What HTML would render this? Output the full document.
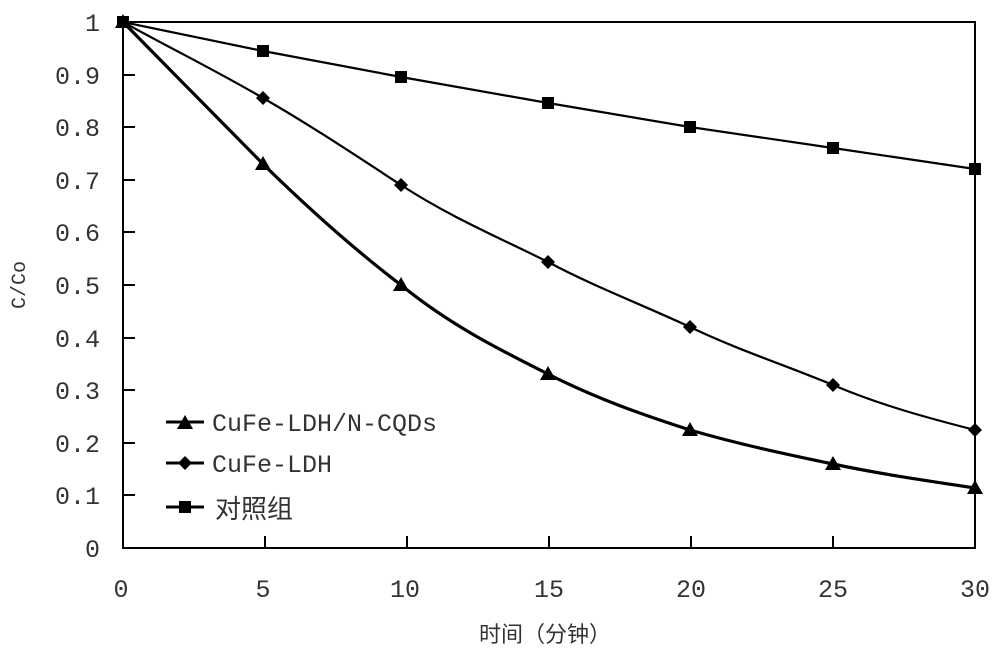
<!DOCTYPE html>
<html><head><meta charset="utf-8"><style>
html,body{margin:0;padding:0;background:#fff;}
text{font-family:"Liberation Mono","WenQuanYi Zen Hei","Noto Sans CJK SC",monospace;fill:#333;}
</style></head><body>
<svg width="1000" height="667" viewBox="0 0 1000 667" xmlns="http://www.w3.org/2000/svg">
<rect x="123" y="22" width="852" height="526" fill="none" stroke="#000" stroke-width="2"/>
<g stroke="#000" stroke-width="2">
<line x1="123" y1="75" x2="135" y2="75"/><line x1="123" y1="127" x2="135" y2="127"/><line x1="123" y1="180" x2="135" y2="180"/><line x1="123" y1="232" x2="135" y2="232"/><line x1="123" y1="285" x2="135" y2="285"/><line x1="123" y1="338" x2="135" y2="338"/><line x1="123" y1="390" x2="135" y2="390"/><line x1="123" y1="443" x2="135" y2="443"/><line x1="123" y1="495" x2="135" y2="495"/>
<line x1="265" y1="548" x2="265" y2="536"/><line x1="407" y1="548" x2="407" y2="536"/><line x1="549" y1="548" x2="549" y2="536"/><line x1="691" y1="548" x2="691" y2="536"/><line x1="833" y1="548" x2="833" y2="536"/>
</g>
<g font-size="25" text-anchor="end">
<text x="100" y="31">1</text><text x="100" y="84">0.9</text><text x="100" y="136">0.8</text><text x="100" y="189">0.7</text><text x="100" y="241">0.6</text><text x="100" y="294">0.5</text><text x="100" y="347">0.4</text><text x="100" y="399">0.3</text><text x="100" y="452">0.2</text><text x="100" y="504">0.1</text><text x="100" y="557">0</text>
</g>
<g font-size="25" text-anchor="middle">
<text x="121" y="597">0</text><text x="263" y="597">5</text><text x="405" y="597">10</text><text x="549" y="597">15</text><text x="691" y="597">20</text><text x="833" y="597">25</text><text x="975" y="597">30</text>
</g>
<text x="545" y="642" font-size="22" text-anchor="middle">时间（分钟）</text>
<text x="0" y="0" font-size="20" text-anchor="middle" transform="translate(25,285) rotate(-90)">C/Co</text>
<g fill="none" stroke="#000">
<polyline stroke-width="2.2" points="123,22 263,51 401,77 548,103 690,127 833,148 975,169"/>
<path stroke-width="2.2" d="M123,22 C170,48 215,70 263,98 C310,125 355,155 401,185 C450,217 500,238 548,262 C595,287 643,305 690,327 C738,350 785,365 833,385 C880,405 928,418 975,430"/>
<path stroke-width="3.2" d="M123,22 C170,70 215,115 263,164 C310,210 355,250 401,285 C450,325 500,350 548,374 C595,398 643,415 690,430 C738,444 785,454 833,464 C880,474 928,481 975,488"/>
</g>
<g fill="#000">
<rect x="257" y="45" width="12" height="12"/><rect x="395" y="71" width="12" height="12"/><rect x="542" y="97" width="12" height="12"/><rect x="684" y="121" width="12" height="12"/><rect x="827" y="142" width="12" height="12"/><rect x="969" y="163" width="12" height="12"/><rect x="117" y="16" width="12" height="12"/>
<polygon points="263,91 270,98 263,105 256,98"/><polygon points="401,178 408,185 401,192 394,185"/><polygon points="548,255 555,262 548,269 541,262"/><polygon points="690,320 697,327 690,334 683,327"/><polygon points="833,378 840,385 833,392 826,385"/><polygon points="975,423 982,430 975,437 968,430"/>
<polygon points="263,156 271,170 255,170"/><polygon points="401,277 409,291 393,291"/><polygon points="548,366 556,380 540,380"/><polygon points="690,422 698,436 682,436"/><polygon points="833,456 841,470 825,470"/><polygon points="975,480 983,494 967,494"/><polygon points="123,14 131,28 115,28"/>
</g>
<g stroke="#000" stroke-width="3"><line x1="166" y1="422" x2="204" y2="422"/><line x1="166" y1="463" x2="204" y2="463"/><line x1="166" y1="507" x2="204" y2="507"/></g>
<g fill="#000"><polygon points="185,415 193,429 177,429"/><polygon points="185,456 192,463 185,470 178,463"/><rect x="179" y="501" width="12" height="12"/></g>
<g font-size="25"><text x="212" y="431">CuFe-LDH/N-CQDs</text><text x="212" y="472">CuFe-LDH</text><text x="215" y="518" font-size="26">对照组</text></g>
</svg>
</body></html>
